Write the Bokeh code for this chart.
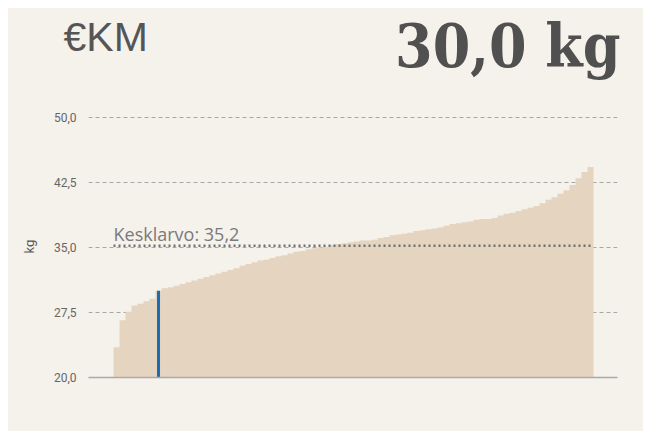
import numpy as np
from bokeh.plotting import figure
from bokeh.layouts import column
from bokeh.models import Range1d, FixedTicker, Label
from bokeh.embed import file_html
from bokeh.resources import INLINE

# ---- data ----
values = [23.5, 26.6, 27.6, 28.3, 28.5, 28.8, 29.1, 30.0, 30.3, 30.4,
          30.6, 30.8, 31.0, 31.2, 31.4, 31.6, 31.8, 32.0, 32.2, 32.4,
          32.6, 32.9, 33.1, 33.3, 33.5, 33.6, 33.8, 34.0, 34.1, 34.3,
          34.5, 34.6, 34.8, 34.9, 35.0, 35.1, 35.3, 35.4, 35.5, 35.6,
          35.7, 35.8, 35.8, 35.9, 36.1, 36.2, 36.4, 36.5, 36.6, 36.7,
          36.9, 37.0, 37.1, 37.2, 37.3, 37.5, 37.7, 37.8, 37.9, 38.0,
          38.2, 38.3, 38.3, 38.4, 38.7, 38.9, 39.0, 39.2, 39.4, 39.6,
          39.8, 40.1, 40.5, 40.8, 41.2, 41.6, 42.2, 43.0, 43.7, 44.3]
highlight_index = 7
mean_value = 35.2
y_ticks = [20.0, 27.5, 35.0, 42.5, 50.0]
y_tick_labels = ["20,0", "27,5", "35,0", "42,5", "50,0"]
title_left = "€KM"
unit = "kg"
mean_label = "Kesklarvo"

def fi(v):
    return f"{v:.1f}".replace(".", ",")

BG = "#f5f1eb"
AREA = "#e5d5c0"
GREY = "#555555"
W = 635
HEAD_H = 88
MAIN_H = 423 - HEAD_H

# ---- header figure ----
h = figure(width=W, height=HEAD_H, output_backend="svg", toolbar_location=None,
           x_range=Range1d(0, W), y_range=Range1d(HEAD_H, 0),
           min_border=0)
h.frame_align = False
h.background_fill_color = BG
h.border_fill_color = BG
h.outline_line_color = None
h.axis.visible = False
h.grid.grid_line_color = None
h.add_layout(Label(x=55, y=28, text=title_left, text_font="Liberation Sans",
                   text_font_size="41px", text_color=GREY, text_baseline="alphabetic"))
h.add_layout(Label(x=612, y=37, text=f"{fi(values[highlight_index])} {unit}",
                   text_font="DejaVu Serif Condensed", text_font_style="bold",
                   text_font_size="60px", text_color="#505050",
                   text_align="right", text_baseline="alphabetic"))

# ---- main figure ----
n = len(values)
p = figure(width=W, height=MAIN_H, output_backend="svg", toolbar_location=None,
           x_range=Range1d(-4.17, n + 4.0), y_range=Range1d(20, 50.23),
           min_border_left=80, min_border_right=26, min_border_top=109 - HEAD_H - 2,
           min_border_bottom=54)
p.frame_align = False
p.background_fill_color = BG
p.border_fill_color = BG
p.outline_line_color = None

# step area
edges = np.arange(n + 1)
xs = np.repeat(edges, 2)[1:-1]
ys = np.repeat(np.array(values), 2)
p.varea(x=xs, y1=20, y2=ys, fill_color=AREA)

# mean line
p.line(x=[0, n], y=[mean_value, mean_value], line_color="#707070", line_width=2.5,
       line_dash="2 3")
p.add_layout(Label(x=0, y=mean_value, text=f"{mean_label}: {fi(mean_value)}",
                   text_font="Open Sans", text_font_size="18px", text_color="#7a7a7a",
                   y_offset=12, text_baseline="alphabetic"))

# highlight line
hx = highlight_index + 0.5
p.segment(x0=[hx], y0=[20], x1=[hx], y1=[values[highlight_index]],
          line_color="#1a6db3", line_width=3)

# axes
p.yaxis.ticker = FixedTicker(ticks=y_ticks)
p.yaxis.major_label_overrides = {t: l for t, l in zip(y_ticks, y_tick_labels)}
p.yaxis.axis_line_color = None
p.yaxis.major_tick_line_color = None
p.yaxis.minor_tick_line_color = None
p.yaxis.major_label_text_font = "Roboto"
p.yaxis.major_label_text_font_size = "12px"
p.yaxis.major_label_text_color = "#666666"
p.yaxis.major_label_standoff = 6
p.yaxis.axis_label = unit
p.yaxis.axis_label_text_font = "Roboto"
p.yaxis.axis_label_text_font_style = "normal"
p.yaxis.axis_label_text_font_size = "13px"
p.yaxis.axis_label_text_color = GREY
p.yaxis.axis_label_standoff = 14

p.xaxis.ticker = FixedTicker(ticks=[])
p.xaxis.axis_line_color = "#aaaaaa"
p.xaxis.axis_line_width = 1.5
p.xaxis.major_tick_line_color = None
p.xaxis.minor_tick_line_color = None
p.xaxis.major_label_text_font_size = "0px"

p.xgrid.grid_line_color = None
p.ygrid.grid_line_color = "#a8a8a8"
p.ygrid.grid_line_dash = "4 3"
p.ygrid.grid_line_width = 1

layout = column(h, p, spacing=0)
layout.margin = (8, 8, 8, 8)
layout.styles = {"background-color": BG}
open("out.html", "w").write(file_html(layout, INLINE))
